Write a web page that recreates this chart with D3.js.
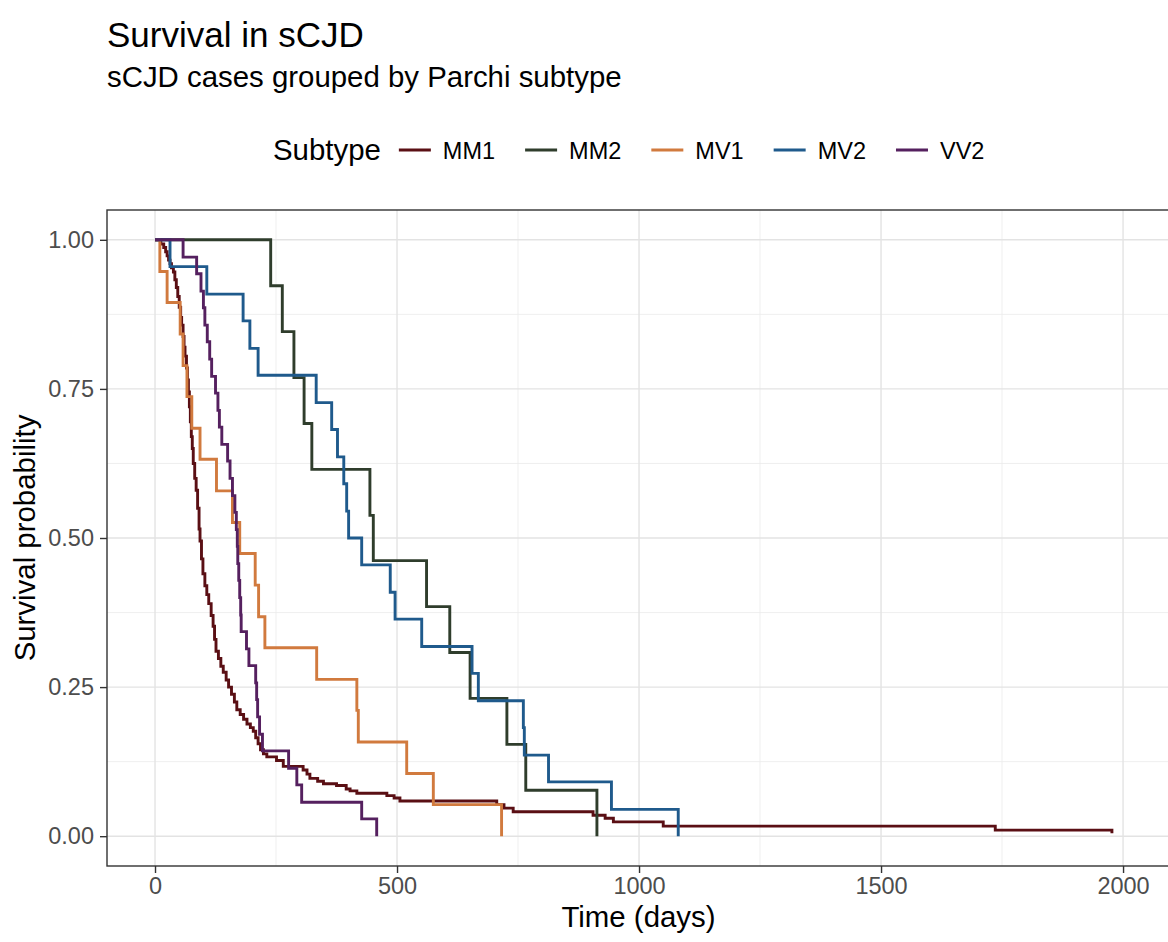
<!DOCTYPE html>
<html>
<head>
<meta charset="utf-8">
<script src="https://cdn.jsdelivr.net/npm/d3@7/dist/d3.min.js"></script>
<style>
  html, body { margin: 0; padding: 0; background: #ffffff; }
  svg { display: block; }
  text { font-family: "Liberation Sans", Arial, sans-serif; }
</style>
</head>
<body>
<svg id="chart" width="1168" height="942"></svg>
<script>
// ---------------- data ----------------
const subtypes = ["MM1", "MM2", "MV1", "MV2", "VV2"];
const colors   = ["#5a0f14", "#2f3d2c", "#d17a3e", "#1f5a8c", "#55205f"];

// step points: at each time the curve drops to the matching survival value
const mm1Time = [0, 12, 18, 22, 25, 28, 31, 34, 38, 41, 44, 47, 50, 53, 55, 58, 60, 62, 65, 67, 69, 71, 73, 75, 77, 79, 82, 85, 88, 91, 93, 96, 99, 103, 107, 111, 116, 120, 123, 126, 131, 136, 141, 147, 152, 158, 164, 169, 176, 183, 190, 197, 203, 208, 213, 218, 224, 231, 251, 265, 306, 314, 320, 336, 348, 375, 395, 403, 417, 479, 494, 506, 706, 721, 740, 905, 930, 947, 1050, 1736, 1977];
const mm1Surv = [1, 0.993, 0.987, 0.980, 0.973, 0.966, 0.960, 0.953, 0.946, 0.933, 0.920, 0.905, 0.887, 0.870, 0.857, 0.838, 0.820, 0.805, 0.785, 0.765, 0.745, 0.720, 0.695, 0.670, 0.650, 0.625, 0.600, 0.580, 0.550, 0.515, 0.495, 0.465, 0.440, 0.420, 0.405, 0.390, 0.370, 0.352, 0.330, 0.310, 0.298, 0.285, 0.275, 0.262, 0.250, 0.238, 0.225, 0.212, 0.204, 0.196, 0.188, 0.182, 0.176, 0.165, 0.155, 0.145, 0.138, 0.133, 0.127, 0.117, 0.111, 0.104, 0.097, 0.092, 0.088, 0.085, 0.079, 0.076, 0.072, 0.068, 0.064, 0.059, 0.053, 0.047, 0.041, 0.035, 0.030, 0.024, 0.0168, 0.0101, 0.005];

const mm2Time = [0, 239, 263, 287, 308, 324, 444, 451, 561, 609, 651, 727, 766, 913];
const mm2Surv = [1, 0.923, 0.846, 0.769, 0.692, 0.615, 0.538, 0.462, 0.385, 0.308, 0.231, 0.154, 0.077, 0];

const mv1Time = [0, 10, 25, 52, 58, 66, 76, 93, 127, 160, 175, 207, 214, 227, 334, 417, 420, 520, 575, 716];
const mv1Surv = [1, 0.947, 0.895, 0.842, 0.789, 0.737, 0.684, 0.632, 0.579, 0.526, 0.474, 0.421, 0.368, 0.316, 0.263, 0.211, 0.158, 0.105, 0.053, 0];

const mv2Time = [0, 31, 107, 182, 196, 213, 333, 365, 377, 390, 396, 400, 427, 486, 496, 551, 655, 668, 761, 763, 813, 943, 1081];
const mv2Surv = [1, 0.955, 0.909, 0.864, 0.818, 0.773, 0.727, 0.682, 0.636, 0.591, 0.545, 0.500, 0.455, 0.409, 0.364, 0.318, 0.273, 0.227, 0.182, 0.136, 0.091, 0.045, 0];

const vv2Time = [0, 58, 86, 95, 100, 103, 108, 113, 117, 125, 130, 133, 138, 150, 155, 160, 165, 168, 170, 171, 173, 175, 177, 178, 189, 194, 208, 210, 212, 216, 222, 276, 293, 303, 427, 458];
const vv2Surv = [1, 0.971, 0.943, 0.914, 0.886, 0.857, 0.829, 0.800, 0.771, 0.743, 0.714, 0.686, 0.657, 0.629, 0.600, 0.571, 0.543, 0.514, 0.486, 0.457, 0.429, 0.400, 0.371, 0.343, 0.314, 0.286, 0.257, 0.229, 0.200, 0.171, 0.143, 0.114, 0.086, 0.057, 0.029, 0];

const xTicks = [0, 500, 1000, 1500, 2000];
const xMinor = [250, 750, 1250, 1750];
const yTicks = [0, 0.25, 0.5, 0.75, 1];
const yMinor = [0.125, 0.375, 0.625, 0.875];

const titleText = "Survival in sCJD";
const subtitleText = "sCJD cases grouped by Parchi subtype";
const xTitle = "Time (days)";
const yTitle = "Survival probability";
const legendTitle = "Subtype";

// ---------------- drawing ----------------
const svg = d3.select("#chart");
const panel = { left: 107, right: 1170, top: 210, bottom: 866 };

const x = d3.scaleLinear().domain([-99.2, 2097]).range([panel.left, panel.right]);
const y = d3.scaleLinear().domain([-0.05, 1.05]).range([panel.bottom, panel.top]);

svg.append("rect").attr("width", 1168).attr("height", 942).attr("fill", "#fff");

// grid
const grid = svg.append("g");
grid.selectAll(".xminor").data(xMinor).join("line")
  .attr("x1", d => x(d)).attr("x2", d => x(d))
  .attr("y1", panel.top).attr("y2", panel.bottom)
  .attr("stroke", "#ebebeb").attr("stroke-width", 0.8);
grid.selectAll(".yminor").data(yMinor).join("line")
  .attr("x1", panel.left).attr("x2", panel.right)
  .attr("y1", d => y(d)).attr("y2", d => y(d))
  .attr("stroke", "#ebebeb").attr("stroke-width", 0.8);
grid.selectAll(".xmajor").data(xTicks).join("line")
  .attr("x1", d => x(d)).attr("x2", d => x(d))
  .attr("y1", panel.top).attr("y2", panel.bottom)
  .attr("stroke", "#e3e3e3").attr("stroke-width", 1.4);
grid.selectAll(".ymajor").data(yTicks).join("line")
  .attr("x1", panel.left).attr("x2", panel.right)
  .attr("y1", d => y(d)).attr("y2", d => y(d))
  .attr("stroke", "#e3e3e3").attr("stroke-width", 1.4);

// curves
const series = [
  { name: subtypes[0], color: colors[0], t: mm1Time, s: mm1Surv },
  { name: subtypes[1], color: colors[1], t: mm2Time, s: mm2Surv },
  { name: subtypes[2], color: colors[2], t: mv1Time, s: mv1Surv },
  { name: subtypes[3], color: colors[3], t: mv2Time, s: mv2Surv },
  { name: subtypes[4], color: colors[4], t: vv2Time, s: vv2Surv }
];
const line = d3.line().x(d => x(d[0])).y(d => y(d[1])).curve(d3.curveStepAfter);
svg.append("g").selectAll("path").data(series).join("path")
  .attr("d", d => line(d.t.map((t, i) => [t, d.s[i]])))
  .attr("fill", "none")
  .attr("stroke", d => d.color)
  .attr("stroke-width", 2.9)
  .attr("stroke-linejoin", "miter");

// border
svg.append("rect")
  .attr("x", panel.left).attr("y", panel.top)
  .attr("width", panel.right - panel.left).attr("height", panel.bottom - panel.top)
  .attr("fill", "none").attr("stroke", "#333333").attr("stroke-width", 1.4);

// axes
const xAxis = d3.axisBottom(x).tickValues(xTicks).tickSize(7).tickPadding(4).tickFormat(d3.format("d"));
const gx = svg.append("g").attr("transform", `translate(0,${panel.bottom})`).call(xAxis);
gx.select(".domain").remove();
gx.selectAll("line").attr("stroke", "#333333").attr("stroke-width", 1.4);
gx.selectAll("text").attr("fill", "#4d4d4d").attr("font-size", 23.5)
  .attr("font-family", "Liberation Sans, Arial, sans-serif");

const yAxis = d3.axisLeft(y).tickValues(yTicks).tickSize(7).tickPadding(6).tickFormat(d3.format(".2f"));
const gy = svg.append("g").attr("transform", `translate(${panel.left},0)`).call(yAxis);
gy.select(".domain").remove();
gy.selectAll("line").attr("stroke", "#333333").attr("stroke-width", 1.4);
gy.selectAll("text").attr("fill", "#4d4d4d").attr("font-size", 23.5)
  .attr("font-family", "Liberation Sans, Arial, sans-serif");

// titles
svg.append("text").attr("x", 107).attr("y", 47).attr("font-size", 35).attr("fill", "#000").text(titleText);
svg.append("text").attr("x", 107).attr("y", 87).attr("font-size", 29.4).attr("fill", "#000").text(subtitleText);
svg.append("text").attr("x", (panel.left + panel.right) / 2).attr("y", 927)
  .attr("text-anchor", "middle").attr("font-size", 29.4).attr("fill", "#000").text(xTitle);
svg.append("text").attr("transform", `translate(35,${(panel.top + panel.bottom) / 2}) rotate(-90)`)
  .attr("text-anchor", "middle").attr("font-size", 29.4).attr("fill", "#000").text(yTitle);

// legend
const lg = svg.append("g");
const lgTitle = lg.append("text").attr("y", 160).attr("font-size", 29.4).attr("fill", "#000").text(legendTitle);
const titleW = lgTitle.node().getComputedTextLength();
const items = series.map(d => {
  const g = lg.append("g");
  g.append("line").attr("x1", 0).attr("x2", 32).attr("y1", 150).attr("y2", 150)
    .attr("stroke", d.color).attr("stroke-width", 2.9);
  const t = g.append("text").attr("x", 44).attr("y", 158.5).attr("font-size", 23.5).attr("fill", "#000").text(d.name);
  return { g, w: 44 + t.node().getComputedTextLength() };
});
const gap = 30;
let cx = 273;
lgTitle.attr("x", cx);
cx += titleW + 18;
items.forEach(it => { it.g.attr("transform", `translate(${cx},0)`); cx += it.w + gap; });
</script>
</body>
</html>
